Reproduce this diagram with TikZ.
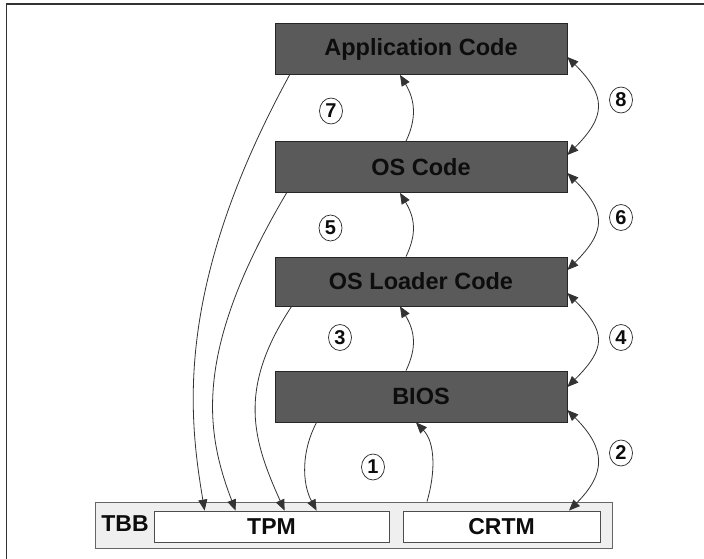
\documentclass[tikz,border=0pt]{standalone}
\usepackage{fontspec}
\setmainfont{Liberation Sans}
\usetikzlibrary{arrows.meta,shapes.geometric}
\definecolor{boxgray}{HTML}{5A5A5A}
\definecolor{tbbgray}{HTML}{EFEFEF}
\definecolor{linegray}{HTML}{333333}
\begin{document}
\begin{tikzpicture}[x=1pt,y=-1pt,
  code/.style={draw=black!85, line width=0.8pt, fill=boxgray, minimum width=292pt,
    minimum height=51pt, inner sep=0pt, font=\fontsize{23.5}{25}\selectfont\bfseries, text=black!95},
  tbbbox/.style={draw=black!60, line width=0.9pt, fill=tbbgray, minimum width=517pt,
    minimum height=46pt, inner sep=0pt},
  slot/.style={draw=black!70, line width=0.8pt, fill=white, minimum height=31pt,
    inner sep=0pt, font=\fontsize{23}{25}\selectfont\bfseries, text=black!95},
  num/.style={draw=black!85, line width=0.7pt, ellipse, minimum width=23pt, minimum height=26pt,
    inner sep=0pt, font=\fontsize{20}{22}\selectfont\bfseries, text=black!95},
  arr/.style={draw=linegray, line width=0.8pt, -{Triangle[length=11pt,width=9pt]}},
  darr/.style={draw=linegray, line width=0.8pt, {Triangle[length=11pt,width=9pt]}-{Triangle[length=11pt,width=9pt]}}]
\useasboundingbox (0,0) rectangle (704,559);
\fill[white] (0,0) rectangle (704,559);
\draw[line width=1.5pt, black!80] (6.7,559) -- (6.7,4) -- (704,4);

% main boxes
\node[code] (app) at (421,49) {Application Code};
\node[code] (os) at (421,167) {OS Code};
\node[code, minimum height=49pt] (osl) at (421,281.5) {OS Loader Code};
\node[code] (bios) at (421,396.5) {BIOS};

% TBB
\node[tbbbox] (tbb) at (353.5,525) {};
\node[font=\fontsize{23}{25}\selectfont\bfseries, text=black!95, inner sep=0pt] (tbbl) at (125,524) {TBB};
\node[slot, minimum width=235pt] (tpm) at (271.5,526.5) {TPM};
\node[slot, minimum width=197pt] (crtm) at (501.5,526.5) {CRTM};

% numbers
\node[num] (n1) at (373,467) {1};
\node[num] (n2) at (621,453) {2};
\node[num] (n3) at (340,337.5) {3};
\node[num] (n4) at (621,337.5) {4};
\node[num] (n5) at (330.5,228) {5};
\node[num] (n6) at (621,217.5) {6};
\node[num] (n7) at (331,111) {7};
\node[num] (n8) at (621,100) {8};

% upward measurement arrows (middle)
\draw[arr] ([xshift=-15pt]os.north) .. controls +(11,-23) and +(15,25) .. ([xshift=-21pt]app.south);
\draw[arr] ([xshift=-15pt]osl.north) .. controls +(11,-23) and +(15,25) .. ([xshift=-21pt]os.south);
\draw[arr] ([xshift=-15pt]bios.north) .. controls +(11,-23) and +(15,25) .. ([xshift=-21pt]osl.south);
\draw[arr] ([xshift=73.5pt]tbb.north) .. controls +(8,-27) and +(20,21) .. ([xshift=-5pt]bios.south);

% right double arrows
\draw[darr] ([yshift=-8pt]app.east) .. controls +(39,39) and +(39,-39) .. ([yshift=12pt]os.east);
\draw[darr] ([yshift=-6pt]os.east) .. controls +(39,39) and +(39,-39) .. ([yshift=11.5pt]osl.east);
\draw[darr] ([yshift=-11.5pt]osl.east) .. controls +(39,39) and +(39,-39) .. ([yshift=9.5pt]bios.east);
\draw[darr] ([yshift=-13.5pt]bios.east) .. controls +(39,39) and +(37,-37) .. ([xshift=67.5pt]crtm.north);

% left arrows into TPM
\draw[arr] ([xshift=15pt]app.south west) .. controls +(-118,216) and +(-15,-91) .. ([xshift=51pt]tpm.north west);
\draw[arr] ([xshift=12pt]os.south west) .. controls +(-93,157) and +(-31,-81) .. ([xshift=82pt]tpm.north west);
\draw[arr] ([xshift=17pt]osl.south west) .. controls +(-55,83) and +(-31.5,-70) .. ([xshift=131pt]tpm.north west);
\draw[arr] ([xshift=42pt]bios.south west) .. controls +(-15,28) and +(-15,-28) .. ([xshift=163pt]tpm.north west);
\end{tikzpicture}
\end{document}
